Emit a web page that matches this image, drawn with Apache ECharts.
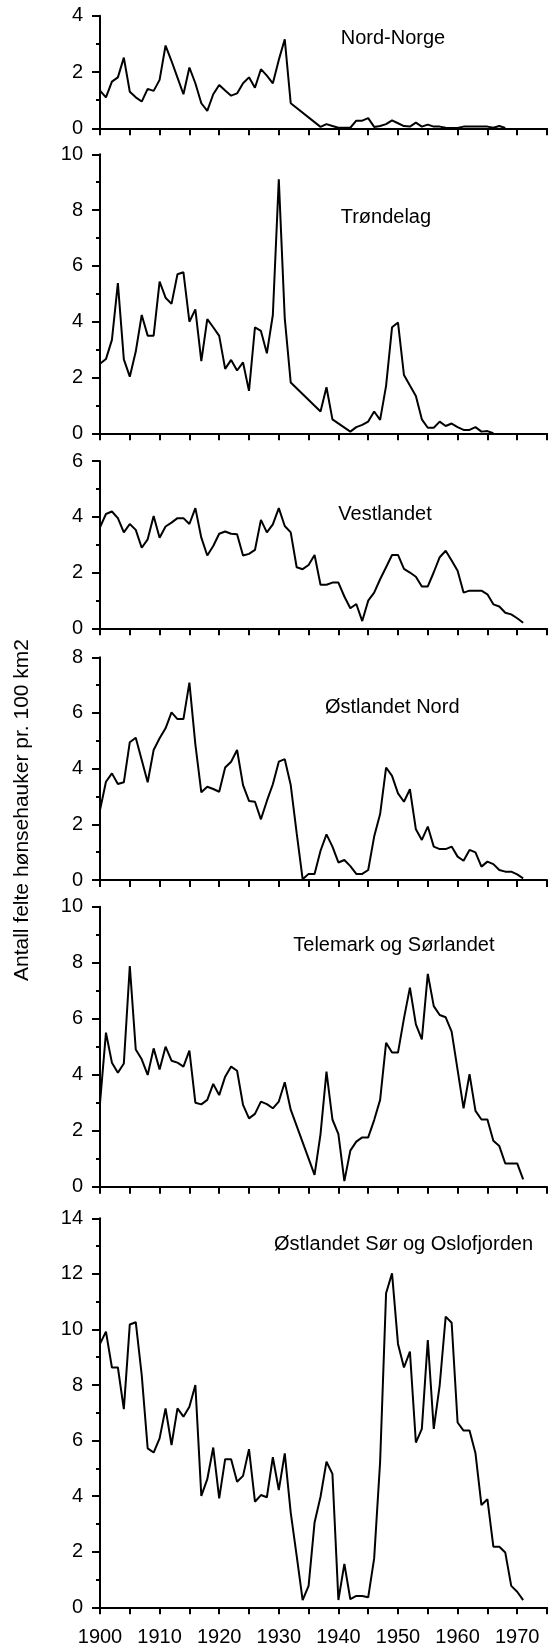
<!DOCTYPE html>
<html><head><meta charset="utf-8">
<script src="https://cdn.jsdelivr.net/npm/echarts@6/dist/echarts.min.js"></script>
<style>html,body{margin:0;padding:0;background:#fff}#c{width:555px;height:1650px}</style>
</head><body><div id="c"></div>
<script>
// ---- Data ----
const yearsFull = [1900,1901,1902,1903,1904,1905,1906,1907,1908,1909,1910,1911,1912,1913,1914,1915,1916,1917,1918,1919,1920,1921,1922,1923,1924,1925,1926,1927,1928,1929,1930,1931,1932,1933,1934,1935,1936,1937,1938,1939,1940,1941,1942,1943,1944,1945,1946,1947,1948,1949,1950,1951,1952,1953,1954,1955,1956,1957,1958,1959,1960,1961,1962,1963,1964,1965,1966,1967,1968,1969,1970,1971];

const nordNorgeYears = [1900,1901,1902,1903,1904,1905,1906,1907,1908,1909,1910,1911,1912,1913,1914,1915,1916,1917,1918,1919,1920,1921,1922,1923,1924,1925,1926,1927,1928,1929,1930,1931,1932,1937,1938,1939,1940,1941,1942,1943,1944,1945,1946,1947,1948,1949,1950,1951,1952,1953,1954,1955,1956,1957,1958,1959,1960,1961,1962,1963,1964,1965,1966,1967,1968];
const nordNorgeValues = [1.34,1.10,1.66,1.81,2.51,1.30,1.10,0.95,1.40,1.33,1.72,2.94,2.39,1.80,1.21,2.16,1.60,0.89,0.62,1.21,1.54,1.34,1.16,1.24,1.60,1.81,1.44,2.10,1.87,1.60,2.43,3.16,0.89,0.05,0.15,0.08,0.02,0.02,0.02,0.27,0.27,0.36,0.05,0.08,0.15,0.28,0.18,0.08,0.06,0.20,0.06,0.13,0.06,0.06,0.02,0.01,0.01,0.06,0.06,0.06,0.06,0.06,0.02,0.08,0.01];

const trondelagYears = [1900,1901,1902,1903,1904,1905,1906,1907,1908,1909,1910,1911,1912,1913,1914,1915,1916,1917,1918,1919,1920,1921,1922,1923,1924,1925,1926,1927,1928,1929,1930,1931,1932,1937,1938,1939,1942,1943,1944,1945,1946,1947,1948,1949,1950,1951,1952,1953,1954,1955,1956,1957,1958,1959,1960,1961,1962,1963,1964,1965,1966];
const trondelagValues = [2.49,2.66,3.35,5.38,2.65,2.03,2.93,4.24,3.50,3.50,5.44,4.86,4.64,5.70,5.77,4.00,4.44,2.59,4.09,3.80,3.49,2.31,2.63,2.25,2.54,1.52,3.80,3.67,2.87,4.24,9.10,4.12,1.82,0.78,1.65,0.50,0.06,0.22,0.30,0.42,0.78,0.48,1.70,3.80,3.97,2.09,1.71,1.34,0.50,0.20,0.20,0.42,0.26,0.35,0.22,0.12,0.12,0.22,0.06,0.08,0.00];

const vestlandetYears = yearsFull;
const vestlandetValues = [3.62,4.10,4.19,3.95,3.44,3.74,3.53,2.89,3.19,4.03,3.25,3.65,3.79,3.95,3.95,3.74,4.31,3.25,2.61,2.95,3.39,3.47,3.39,3.37,2.61,2.67,2.81,3.89,3.44,3.73,4.31,3.67,3.44,2.19,2.12,2.27,2.63,1.56,1.56,1.64,1.64,1.14,0.72,0.87,0.26,0.99,1.28,1.76,2.19,2.63,2.63,2.13,2.00,1.85,1.50,1.50,2.01,2.55,2.78,2.43,2.06,1.28,1.35,1.35,1.35,1.22,0.86,0.78,0.56,0.50,0.36,0.20];

const ostNordYears = yearsFull;
const ostNordValues = [2.51,3.53,3.83,3.45,3.51,4.95,5.11,4.31,3.51,4.67,5.09,5.45,6.02,5.78,5.78,7.09,4.87,3.15,3.35,3.27,3.17,4.04,4.25,4.67,3.41,2.84,2.81,2.18,2.84,3.44,4.25,4.34,3.41,1.68,0.03,0.22,0.22,1.05,1.64,1.20,0.63,0.72,0.50,0.22,0.22,0.36,1.56,2.37,4.04,3.74,3.11,2.81,3.26,1.82,1.44,1.92,1.20,1.11,1.11,1.20,0.84,0.69,1.08,0.99,0.48,0.66,0.57,0.36,0.30,0.30,0.20,0.06];

const telemarkYears = [1900,1901,1902,1903,1904,1905,1906,1907,1908,1909,1910,1911,1912,1913,1914,1915,1916,1917,1918,1919,1920,1921,1922,1923,1924,1925,1926,1927,1928,1929,1930,1931,1932,1936,1937,1938,1939,1940,1941,1942,1943,1944,1945,1946,1947,1948,1949,1950,1951,1952,1953,1954,1955,1956,1957,1958,1959,1960,1961,1962,1963,1964,1965,1966,1967,1968,1969,1970,1971];
const telemarkValues = [2.98,5.50,4.43,4.07,4.40,7.88,4.90,4.55,3.99,4.94,4.19,5.00,4.50,4.43,4.29,4.86,3.00,2.94,3.10,3.67,3.27,3.93,4.29,4.14,2.92,2.44,2.60,3.04,2.95,2.80,3.04,3.73,2.75,0.42,1.88,4.11,2.40,1.88,0.20,1.29,1.61,1.76,1.76,2.38,3.10,5.14,4.79,4.79,6.01,7.11,5.80,5.26,7.60,6.45,6.13,6.05,5.54,4.17,2.80,4.02,2.71,2.40,2.40,1.64,1.45,0.83,0.83,0.83,0.26];

const ostSorYears = yearsFull;
const ostSorValues = [9.48,9.92,8.63,8.63,7.13,10.18,10.26,8.36,5.72,5.57,6.08,7.16,5.84,7.16,6.86,7.22,8.00,4.01,4.61,5.75,3.92,5.33,5.33,4.52,4.73,5.69,3.80,4.04,3.96,5.40,4.22,5.54,3.41,1.85,0.26,0.77,3.05,3.98,5.24,4.80,0.26,1.56,0.29,0.41,0.41,0.36,1.76,5.24,11.30,12.02,9.48,8.63,9.20,5.93,6.42,9.62,6.42,8.00,10.46,10.24,6.65,6.36,6.36,5.54,3.68,3.89,2.18,2.18,1.97,0.77,0.56,0.26];

const panelTitles = ['Nord-Norge','Trøndelag','Vestlandet','Østlandet Nord','Telemark og Sørlandet','Østlandet Sør og Oslofjorden'];
const panelYMax = [4,10,6,8,10,14];
const yAxisTitle = 'Antall felte hønsehauker pr. 100 km2';

// ---- Layout ----
const FONT = '"Liberation Sans", Arial, Helvetica, sans-serif';
const gridTops = [15.7,154.3,461,657.3,906.7,1218.3];
const gridHeights = [112.6,279,167.3,222.7,280,389];
const titlePos = [[340.7,38],[340.7,217.5],[338.3,514.2],[325,707.7],[293.3,945.8],[274,1244]];

const panelData = [
  [nordNorgeYears,nordNorgeValues],
  [trondelagYears,trondelagValues],
  [vestlandetYears,vestlandetValues],
  [ostNordYears,ostNordValues],
  [telemarkYears,telemarkValues],
  [ostSorYears,ostSorValues]
];

const grid=[],xAxis=[],yAxis=[],series=[],graphic=[];
for(let i=0;i<6;i++){
  grid.push({left:100,right:8,top:gridTops[i],height:gridHeights[i],outerBoundsMode:'none',containLabel:false});
  const last = i===5;
  xAxis.push({
    type:'value',gridIndex:i,min:1900,max:1975,interval:5,
    axisLine:{show:true,onZero:false,lineStyle:{color:'#000',width:2}},
    axisTick:{show:true,length:7,inside:false,lineStyle:{color:'#000',width:2}},
    splitLine:{show:false},
    axisLabel:{show:last,margin:20,color:'#000',fontSize:20,fontFamily:FONT,
      formatter:v=> (v%10===0 && v<=1970) ? String(v) : ''}
  });
  yAxis.push({
    type:'value',gridIndex:i,min:0,max:panelYMax[i],interval:2,
    axisLine:{show:true,lineStyle:{color:'#000',width:2}},
    axisTick:{show:true,length:8,lineStyle:{color:'#000',width:2}},
    minorTick:{show:true,splitNumber:2,length:4,lineStyle:{color:'#000',width:2}},
    splitLine:{show:false},minorSplitLine:{show:false},
    axisLabel:{margin:17,color:'#000',fontSize:20,fontFamily:FONT}
  });
  const [ys,vs]=panelData[i];
  series.push({
    type:'line',xAxisIndex:i,yAxisIndex:i,
    data: ys.map((y,k)=>[y,vs[k]]),
    showSymbol:false,symbol:'none',
    lineStyle:{color:'#000',width:2},
    animation:false
  });
  graphic.push({type:'text',x:titlePos[i][0],y:titlePos[i][1],
    style:{text:panelTitles[i],fill:'#000',font:'20px '+FONT,textAlign:'left',textVerticalAlign:'middle'}});
}
graphic.push({type:'text',x:22,y:810,rotation:Math.PI/2,
  style:{text:yAxisTitle,fill:'#000',font:'21px '+FONT,textAlign:'center',textVerticalAlign:'middle'}});

const chart = echarts.init(document.getElementById('c'),null,{renderer:'canvas'});
chart.setOption({animation:false,backgroundColor:'#fff',grid,xAxis,yAxis,series,graphic});
</script>
</body></html>
